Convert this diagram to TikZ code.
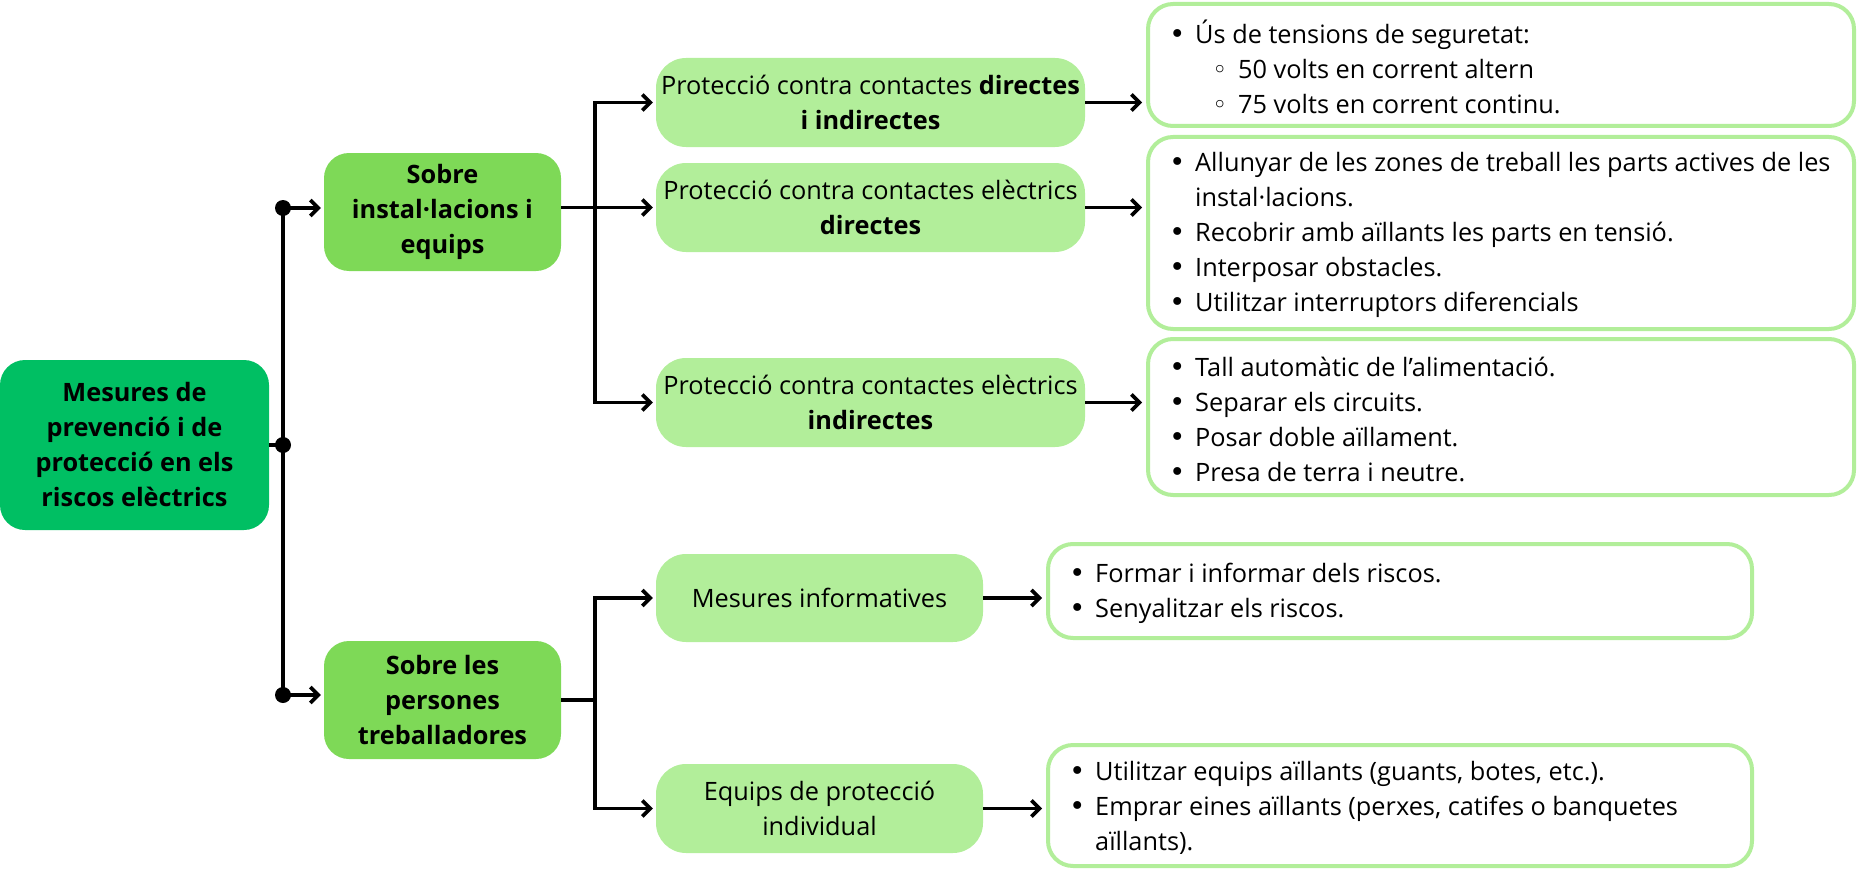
\documentclass[tikz,border=0pt]{standalone}
\usepackage{fontspec}
\setmainfont{Open Sans}
\newfontfamily\dejavu{DejaVu Sans}
\usetikzlibrary{arrows.meta,calc}
\definecolor{cmain}{HTML}{00BF63}
\definecolor{csec}{HTML}{7ED957}
\definecolor{clight}{HTML}{B2EE9A}
\newcommand\bl{\leavevmode\llap{{\dejavu\fontsize{27}{35}\selectfont •}\hspace{10pt}}}
\newcommand\sbl{\leavevmode\hspace*{43pt}\llap{{\dejavu ◦}\hspace{11pt}}}
\begin{document}
\begin{tikzpicture}[x=1pt,y=-1pt,
  txt/.style={font=\fontsize{25.3}{35}\selectfont},
  fbox/.style={txt, rounded corners=25pt, inner sep=0pt, align=center},
  mainbox/.style={fbox, fill=cmain, font=\bfseries\fontsize{25.3}{35}\selectfont},
  secbox/.style={fbox, fill=csec, font=\bfseries\fontsize{25.3}{35}\selectfont},
  leafbox/.style={fbox, fill=clight, rounded corners=30pt},
  listbox/.style={draw=clight, line width=4pt, rounded corners=25pt, fill=white, inner sep=0pt},
  listtext/.style={txt, anchor=west, inner sep=0pt, align=left},
  link/.style={line width=3.6pt},
  arr/.style={link, -{Straight Barb[length=8pt,width=16pt]}, shorten >=3pt},
  dot/.style={circle, fill=black, inner sep=0pt, minimum size=16pt}
]
\useasboundingbox (0,0) rectangle (1857,872);

% main
\node[mainbox, minimum width=269pt, minimum height=170pt] (main) at (134.5,445)
  {Mesures de\\prevenció i de\\protecció en els\\riscos elèctrics};
% second level
\node[secbox, minimum width=237pt, minimum height=118pt] (sobreA) at (442.5,212)
  {Sobre\\instal·lacions i\\equips};
\node[secbox, minimum width=237pt, minimum height=118pt] (sobreB) at (442.5,700)
  {Sobre les\\persones\\treballadores};
% third level
\node[leafbox, minimum width=429pt, minimum height=89pt] (P1) at (870.5,102.5)
  {Protecció contra contactes \textbf{directes}\\\textbf{i indirectes}};
\node[leafbox, minimum width=429pt, minimum height=89pt] (P2) at (870.5,207.5)
  {Protecció contra contactes elèctrics\\\textbf{directes}};
\node[leafbox, minimum width=429pt, minimum height=89pt] (P3) at (870.5,402.5)
  {Protecció contra contactes elèctrics\\\textbf{indirectes}};
\node[leafbox, minimum width=327pt, minimum height=88pt] (M1) at (819.5,598)
  {Mesures informatives};
\node[leafbox, minimum width=327pt, minimum height=89pt] (M2) at (819.5,808.5)
  {Equips de protecció\\individual};

% list boxes
\node[listbox, minimum width=706pt, minimum height=122pt] (R1) at (1501,65) {};
\node[listbox, minimum width=706pt, minimum height=192pt] (R2) at (1501,233) {};
\node[listbox, minimum width=706pt, minimum height=156pt] (R3) at (1501,417) {};
\node[listbox, minimum width=704pt, minimum height=94pt] (R4) at (1400,591) {};
\node[listbox, minimum width=704pt, minimum height=121pt] (R5) at (1400,805.5) {};

\node[listtext] (T1) at ($(R1.west)+(49,2)$)
  {\bl Ús de tensions de seguretat:\\
   \sbl 50 volts en corrent altern\\
   \sbl 75 volts en corrent continu.};
\node[listtext] (T2) at ($(R2.west)+(49,2)$)
  {\bl Allunyar de les zones de treball les parts actives de les\\
   instal·lacions.\\
   \bl Recobrir amb aïllants les parts en tensió.\\
   \bl Interposar obstacles.\\
   \bl Utilitzar interruptors diferencials};
\node[listtext] (T3) at ($(R3.west)+(49,2)$)
  {\bl Tall automàtic de l’alimentació.\\
   \bl Separar els circuits.\\
   \bl Posar doble aïllament.\\
   \bl Presa de terra i neutre.};
\node[listtext] (T4) at ($(R4.west)+(49,2)$)
  {\bl Formar i informar dels riscos.\\
   \bl Senyalitzar els riscos.};
\node[listtext] (T5) at ($(R5.west)+(49,2)$)
  {\bl Utilitzar equips aïllants (guants, botes, etc.).\\
   \bl Emprar eines aïllants (perxes, catifes o banquetes\\
   aïllants).};

% junctions
\coordinate (j0) at (283,445);
\coordinate (j1) at (283,208);
\coordinate (j2) at (283,695);
\coordinate (b1) at (595,207.5);
\coordinate (b2) at (595,700);

\draw[link] (main.east) -- (j0);
\draw[link] (j1) -- (j2);
\node[dot] (d0) at (j0) {};
\node[dot] (d1) at (j1) {};
\node[dot] (d2) at (j2) {};
\draw[arr] (d1.center) -- (d1.center -| sobreA.west);
\draw[arr] (d2.center) -- (d2.center -| sobreB.west);

\draw[arr] (sobreA.east |- P2.west) -- (P2.west);
\draw[arr] (b1) |- (P1.west);
\draw[arr] (b1) |- (P3.west);

\draw[link] (sobreB.east) -- (b2);
\draw[arr] (b2) |- (M1.west);
\draw[arr] (b2) |- (M2.west);

\draw[arr, shorten >=4pt] (P1.east) -- (P1.east -| R1.west);
\draw[arr, shorten >=4pt] (P2.east) -- (P2.east -| R2.west);
\draw[arr, shorten >=4pt] (P3.east) -- (P3.east -| R3.west);
\draw[arr, shorten >=4pt] (M1.east) -- (M1.east -| R4.west);
\draw[arr, shorten >=4pt] (M2.east) -- (M2.east -| R5.west);
\end{tikzpicture}
\end{document}
